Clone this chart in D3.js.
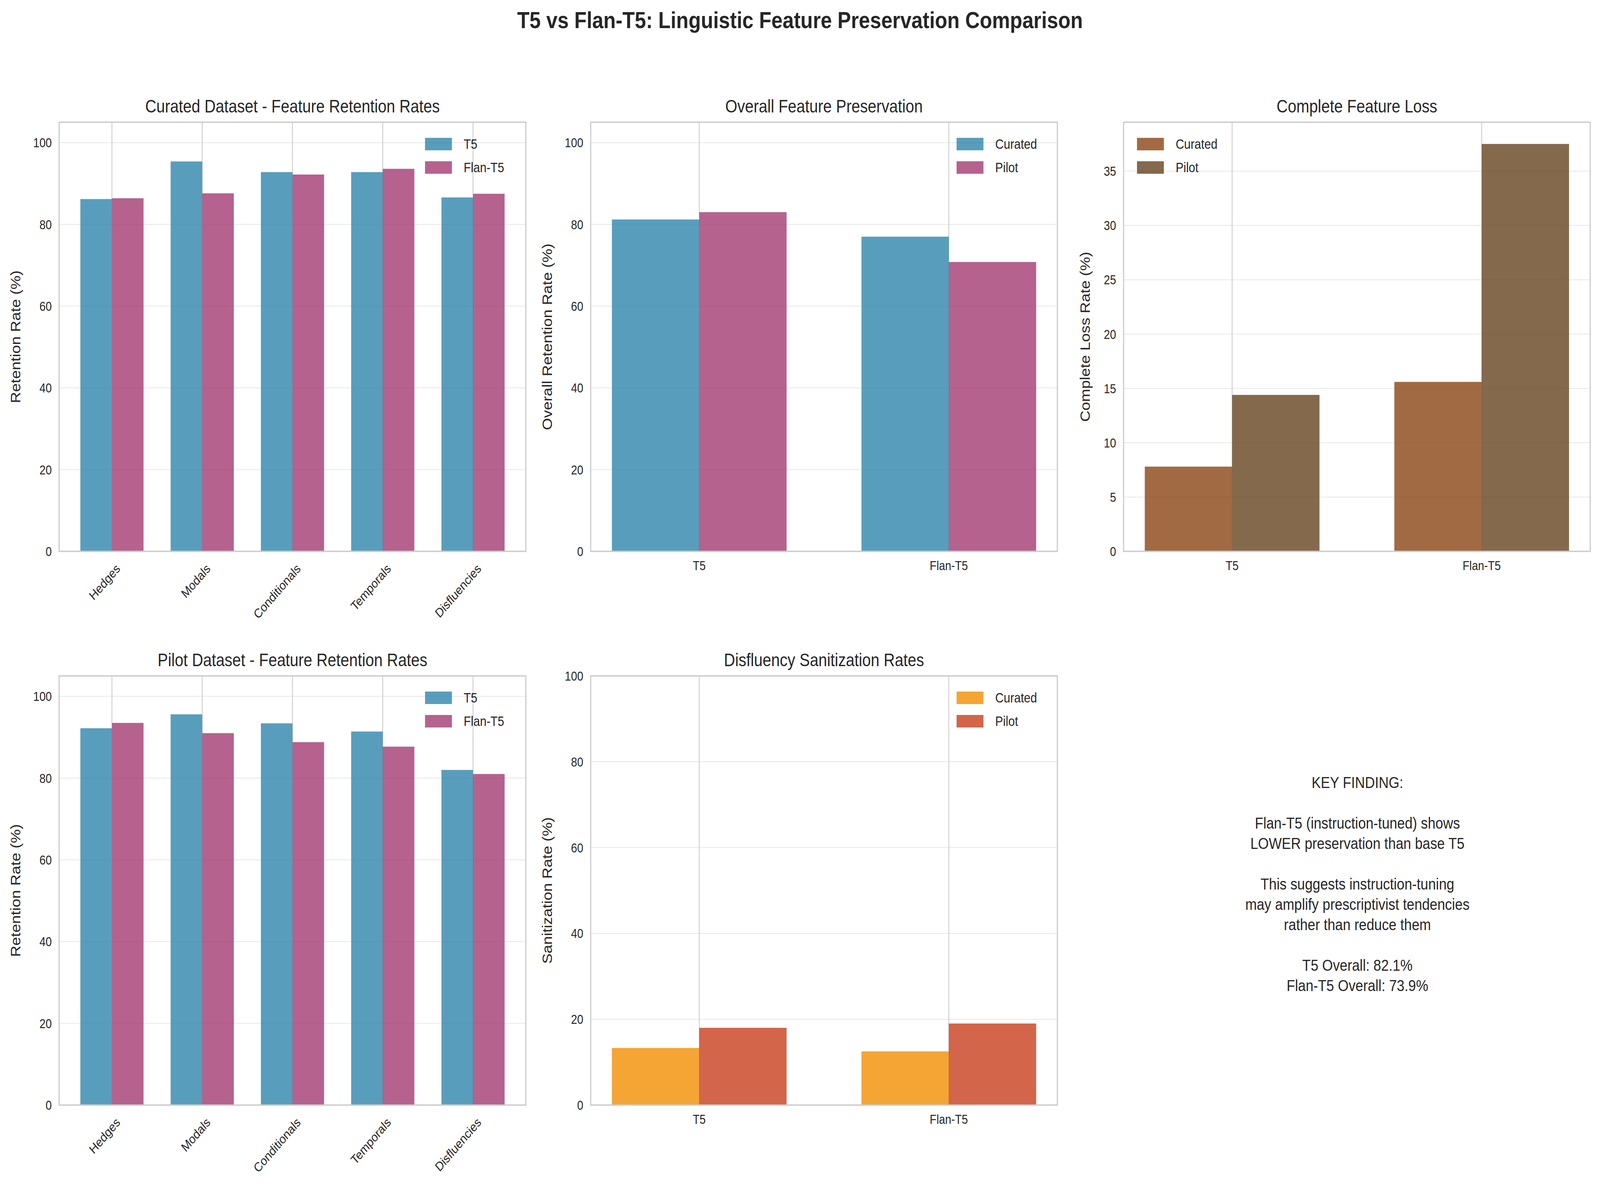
<!DOCTYPE html>
<html>
<head>
<meta charset="utf-8">
<script src="https://cdn.jsdelivr.net/npm/d3@7"></script>
<style>html,body{margin:0;padding:0;background:#fff;overflow:hidden}svg{display:block}text{font-family:"Liberation Sans",Arial,sans-serif;fill:#262626}</style>
</head>
<body>
<div id="chart"></div>
<script>
var features = ["Hedges","Modals","Conditionals","Temporals","Disfluencies"];
var models = ["T5","Flan-T5"];
var curatedT5 = [86.2,95.4,92.8,92.8,86.6];
var curatedFlan = [86.4,87.6,92.2,93.6,87.5];
var pilotT5 = [92.2,95.6,93.4,91.4,82.0];
var pilotFlan = [93.5,91.0,88.8,87.7,81.0];
var overallCurated = [81.2,77.0];
var overallPilot = [83.0,70.8];
var lossCurated = [7.8,15.6];
var lossPilot = [14.4,37.5];
var sanitCurated = [13.3,12.5];
var sanitPilot = [18.0,19.0];
var findingLines = ["KEY FINDING:","","Flan-T5 (instruction-tuned) shows","LOWER preservation than base T5","","This suggests instruction-tuning","may amplify prescriptivist tendencies","rather than reduce them","","T5 Overall: 82.1%","Flan-T5 Overall: 73.9%"];

var W = 4762, H = 3068;
var svg = d3.select("#chart").append("svg")
  .attr("viewBox","0 0 "+W+" "+H).attr("preserveAspectRatio","none")
  .style("width","100vw").style("height","100vh");

svg.append("text").attr("x", W/2).attr("y", 72).attr("text-anchor","middle")
  .style("font-size","60px").style("font-weight","bold").text("T5 vs Flan-T5: Linguistic Feature Preservation Comparison");

function panel(o) {
  var g = svg.append("g").attr("transform","translate("+o.x+","+o.y+")");
  var w = o.w, h = o.h, n = o.cats.length;
  var x = d3.scaleLinear().domain([-0.35-0.05*(n-0.3), n-1+0.35+0.05*(n-0.3)]).range([0,w]);
  var y = d3.scaleLinear().domain([0,o.ymax]).range([h,0]);
  // grid
  g.selectAll(".hg").data(o.ticks).enter().append("line")
    .attr("x1",0).attr("x2",w).attr("y1",function(d){return y(d);}).attr("y2",function(d){return y(d);})
    .attr("stroke","#ebebeb").attr("stroke-width",2.5);
  g.selectAll(".vg").data(o.cats).enter().append("line")
    .attr("x1",function(d,i){return x(i);}).attr("x2",function(d,i){return x(i);}).attr("y1",0).attr("y2",h)
    .attr("stroke","#cccccc").attr("stroke-width",2.5);
  o.series.forEach(function(s, k) {
    var off = k == 0 ? -0.35 : 0;
    g.selectAll(".b"+k).data(s.values).enter().append("rect")
      .attr("x",function(d,i){return x(i+off);}).attr("width",x(0.35)-x(0))
      .attr("y",function(d){return y(d);}).attr("height",function(d){return h-y(d);})
      .attr("fill",s.color).attr("fill-opacity",0.8);
  });
  g.append("rect").attr("width",w).attr("height",h).attr("fill","none").attr("stroke","#cccccc").attr("stroke-width",3.5);
  g.selectAll(".yt").data(o.ticks).enter().append("text")
    .attr("x",-22).attr("y",function(d){return y(d)+12;}).attr("text-anchor","end")
    .style("font-size","33px").text(function(d){return d;});
  g.selectAll(".xt").data(o.cats).enter().append("text")
    .attr("transform",function(d,i){ return o.rotate ? "translate("+(x(i)+10)+","+(h+30)+") rotate(-45)" : "translate("+x(i)+","+(h+48)+")"; })
    .attr("text-anchor",o.rotate?"end":"middle").attr("dy",o.rotate?"0.7em":0)
    .style("font-size","33px").text(function(d){return d;});
  g.append("text").attr("x",w/2).attr("y",-25).attr("text-anchor","middle").style("font-size","46px").text(o.title);
  g.append("text").attr("transform","translate("+(-o.ylabOff)+","+(h/2)+") rotate(-90)").attr("text-anchor","middle")
    .style("font-size","40px").text(o.ylabel);
  // legend
  var lx = o.legendLeft ? 40 : w - 300;
  o.series.forEach(function(s,k){
    g.append("rect").attr("x",lx).attr("y",40+k*60).attr("width",80).attr("height",32).attr("fill",s.color).attr("fill-opacity",0.8);
    g.append("text").attr("x",lx+115).attr("y",68+k*60).style("font-size","35px").text(s.name);
  });
}

var cols = [176,1758,3344], rows = [313,1731], pw = 1389, ph = 1099;
var t5c = "#2E86AB", flc = "#A23B72";

panel({x:cols[0],y:rows[0],w:pw,h:ph,cats:features,ymax:105,ticks:[0,20,40,60,80,100],rotate:true,
  title:"Curated Dataset - Feature Retention Rates",ylabel:"Retention Rate (%)",ylabOff:115,
  series:[{name:"T5",values:curatedT5,color:t5c},{name:"Flan-T5",values:curatedFlan,color:flc}]});
panel({x:cols[1],y:rows[0],w:pw,h:ph,cats:models,ymax:105,ticks:[0,20,40,60,80,100],
  title:"Overall Feature Preservation",ylabel:"Overall Retention Rate (%)",ylabOff:115,
  series:[{name:"Curated",values:overallCurated,color:t5c},{name:"Pilot",values:overallPilot,color:flc}]});
panel({x:cols[2],y:rows[0],w:pw,h:ph,cats:models,ymax:39.5,ticks:[0,5,10,15,20,25,30,35],legendLeft:true,
  title:"Complete Feature Loss",ylabel:"Complete Loss Rate (%)",ylabOff:100,
  series:[{name:"Curated",values:lossCurated,color:"#8B4513"},{name:"Pilot",values:lossPilot,color:"#654321"}]});
panel({x:cols[0],y:rows[1],w:pw,h:ph,cats:features,ymax:105,ticks:[0,20,40,60,80,100],rotate:true,
  title:"Pilot Dataset - Feature Retention Rates",ylabel:"Retention Rate (%)",ylabOff:115,
  series:[{name:"T5",values:pilotT5,color:t5c},{name:"Flan-T5",values:pilotFlan,color:flc}]});
panel({x:cols[1],y:rows[1],w:pw,h:ph,cats:models,ymax:100,ticks:[0,20,40,60,80,100],
  title:"Disfluency Sanitization Rates",ylabel:"Sanitization Rate (%)",ylabOff:115,
  series:[{name:"Curated",values:sanitCurated,color:"#F18F01"},{name:"Pilot",values:sanitPilot,color:"#C73E1D"}]});

svg.append("g").selectAll("text").data(findingLines).enter().append("text")
  .attr("x",4040).attr("y",function(d,i){return 2018+i*52;}).attr("text-anchor","middle")
  .style("font-size","41px").text(function(d){return d;});
</script>
</body>
</html>
